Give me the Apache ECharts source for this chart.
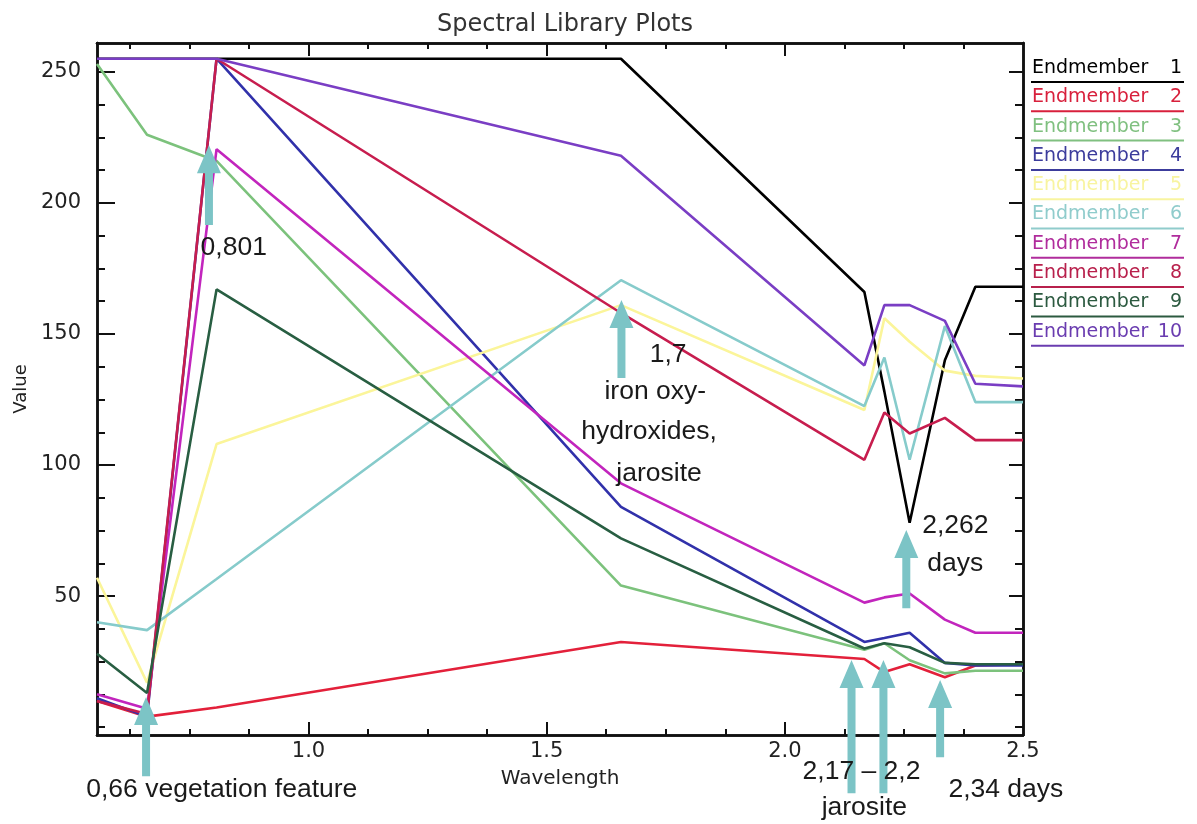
<!DOCTYPE html>
<html><head><meta charset="utf-8">
<script src="https://cdn.jsdelivr.net/npm/echarts@6/dist/echarts.min.js"></script>
<style>html,body{margin:0;padding:0;background:#fff}#c{width:1197px;height:824px}</style>
</head><body><div id="c"></div>
<script>
// ---- data ----
const wavelengths = [0.556, 0.661, 0.807, 1.656, 2.167, 2.209, 2.262, 2.336, 2.400, 2.500];
const em1  = [255, 255, 255, 255, 166, 128, 78, 140, 168, 168];
const em2  = [10, 4, 7.5, 32.5, 26, 21, 24, 19, 23.5, 24];
const em3  = [253, 226, 216, 54, 29.5, 32, 25.5, 20.5, 21.5, 21.5];
const em4  = [11, 4, 255, 84, 32.5, 34, 36, 24.5, 23.5, 23.5];
const em5  = [57, 17, 108, 161, 121, 156, 147, 136, 134, 133];
const em6  = [40, 37, 56.5, 170.5, 122.5, 141, 102, 153, 124, 124];
const em7  = [12.5, 7, 220.5, 93, 47.5, 49.5, 51, 41, 36, 36];
const em8  = [10, 5, 255, 158, 102, 120, 112, 118, 109.5, 109.5];
const em9  = [28, 13, 167, 72, 30, 32, 30.5, 24.5, 24, 24];
const em10 = [255, 255, 255, 218, 138, 161, 161, 155, 131, 130];
const seriesValues = [em1, em2, em3, em4, em5, em6, em7, em8, em9, em10];
const seriesNames = ['Endmember 1','Endmember 2','Endmember 3','Endmember 4','Endmember 5',
                     'Endmember 6','Endmember 7','Endmember 8','Endmember 9','Endmember 10'];
const xTickLabels = [1.0, 1.5, 2.0, 2.5];
const xMajorTicks = [1.0, 1.5, 2.0];
const xMinorTicks = [0.625, 0.75, 0.875, 1.125, 1.25, 1.375, 1.625, 1.75, 1.875, 2.125, 2.25, 2.375];
const yTickLabels = [50, 100, 150, 200, 250];
const yMajorTicks = [50, 100, 150, 200, 250];
const yMinorTicks = [0, 12.5, 25, 37.5, 62.5, 75, 87.5, 112.5, 125, 137.5, 162.5, 175, 187.5, 212.5, 225, 237.5];

// ---- styles ----
const colors = ['#000000', '#e3203a', '#7cc27c', '#3131aa', '#fbf59a', '#86cbcb', '#c225bd', '#c71d4e', '#285e42', '#7a3ec4'];
const legendColors = ['#000000', '#d8203c', '#80c080', '#3c3c9c', '#f8f4a0', '#90cccc', '#b02c9c', '#b8204c', '#2c5a40', '#6a3cb0'];
const X_MIN = 0.556, X_MAX = 2.5, Y_MIN = -3, Y_MAX = 261;
const tickFont = { color: '#222', fontSize: 21, fontFamily: 'DejaVu Sans' };
const axisColor = '#111';

function xAx(pos, ticks, len, labels, extra) {
  return Object.assign({
    type: 'value', min: X_MIN, max: X_MAX, position: pos,
    axisLine: { show: true, onZero: false, lineStyle: { color: axisColor, width: 2.5 } },
    axisTick: { show: true, inside: true, length: len, customValues: ticks, lineStyle: { color: axisColor, width: 2 } },
    axisLabel: labels ? Object.assign({ show: true, customValues: labels, margin: 6,
      formatter: v => Number(v).toFixed(1) }, tickFont) : { show: false },
    splitLine: { show: false }
  }, extra || {});
}
function yAx(pos, ticks, len, labels, extra) {
  return Object.assign({
    type: 'value', min: Y_MIN, max: Y_MAX, position: pos,
    axisLine: { show: true, onZero: false, lineStyle: { color: axisColor, width: 2.5 } },
    axisTick: { show: true, inside: true, length: len, customValues: ticks, lineStyle: { color: axisColor, width: 2 } },
    axisLabel: labels ? Object.assign({ show: true, customValues: labels, margin: 16,
      formatter: v => String(Math.round(v)) }, tickFont) : { show: false },
    splitLine: { show: false }
  }, extra || {});
}

const chart = echarts.init(document.getElementById('c'), null, { renderer: 'canvas' });
chart.setOption({
  animation: false,
  backgroundColor: '#ffffff',
  title: { text: 'Spectral Library Plots', left: 560, textAlign: 'center', top: 8,
    textStyle: { fontSize: 24, fontWeight: 'normal', color: '#333', fontFamily: 'DejaVu Sans' } },
  grid: { left: 97, right: 174, top: 43, bottom: 89, containLabel: false, outerBoundsMode: 'none' },
  xAxis: [
    xAx('bottom', xMajorTicks, 13, xTickLabels, { name: 'Wavelength', nameLocation: 'middle', nameGap: 34,
      nameTextStyle: { fontSize: 20, color: '#222', fontFamily: 'DejaVu Sans' } }),
    xAx('bottom', xMinorTicks, 6, null),
    xAx('top', xMajorTicks, 13, null),
    xAx('top', xMinorTicks, 6, null)
  ],
  yAxis: [
    yAx('left', yMajorTicks, 18, yTickLabels, { name: 'Value', nameLocation: 'middle', nameGap: 66, nameRotate: 90,
      nameTextStyle: { fontSize: 18, color: '#222', fontFamily: 'DejaVu Sans' } }),
    yAx('left', yMinorTicks, 8, null),
    yAx('right', yMajorTicks, 14, null),
    yAx('right', yMinorTicks, 8, null)
  ],
  series: seriesValues.map((vals, i) => ({
    name: seriesNames[i], type: 'line', xAxisIndex: 0, yAxisIndex: 0,
    data: wavelengths.map((w, j) => [w, vals[j]]),
    showSymbol: false, symbol: 'none', z: 2 + i * 0.01,
    lineStyle: { color: colors[i], width: 2.6 }, itemStyle: { color: colors[i] }
  }))
});

// ---- annotations (in data coordinates) ----
const arrows = [
  { x: 0.659, tip: 11.5, tail: -18.7 },
  { x: 0.791, tip: 222, tail: 191.6 },
  { x: 1.657, tip: 163, tail: 133.2 },
  { x: 2.255, tip: 75.2, tail: 45.4 },
  { x: 2.140, tip: 25.6, tail: -25.2 },
  { x: 2.207, tip: 25.6, tail: -25.2 },
  { x: 2.326, tip: 18, tail: -11.5 }
];
const notes = [
  { text: '0,66 vegetation feature', x: 0.818, y: -24 },
  { text: '0,801', x: 0.843, y: 182.8 },
  { text: '1,7', x: 1.755, y: 142 },
  { text: 'iron oxy-', x: 1.728, y: 127.9 },
  { text: 'hydroxides,', x: 1.715, y: 112.6 },
  { text: 'jarosite', x: 1.736, y: 96.6 },
  { text: '2,262', x: 2.358, y: 77 },
  { text: 'days', x: 2.358, y: 62.2 },
  { text: '2,17 – 2,2', x: 2.161, y: -17 },
  { text: 'jarosite', x: 2.167, y: -30.9 },
  { text: '2,34 days', x: 2.464, y: -24 }
];
const toPx = (x, y) => chart.convertToPixel({ xAxisIndex: 0, yAxisIndex: 0 }, [x, y]);
const graphics = [];
arrows.forEach(a => {
  const t = toPx(a.x, a.tip), b = toPx(a.x, a.tail);
  const tx = t[0], ty = t[1], by = b[1], hh = 28, hw = 12, sw = 4;
  graphics.push({ type: 'polygon', z: 50, shape: { points: [
    [tx, ty], [tx + hw, ty + hh], [tx + sw, ty + hh], [tx + sw, by], [tx - sw, by], [tx - sw, ty + hh], [tx - hw, ty + hh]
  ] }, style: { fill: '#7cc4c6' } });
});
notes.forEach(n => {
  const p = toPx(n.x, n.y);
  graphics.push({ type: 'text', z: 51, x: p[0], y: p[1], style: {
    text: n.text, fill: '#1a1a1a', fontSize: 26.5, fontFamily: 'Liberation Sans',
    align: 'center', verticalAlign: 'middle', textAlign: 'center', textVerticalAlign: 'middle' } });
});
// legend
seriesNames.forEach((name, i) => {
  const yc = 68 + 29.3 * i, yl = 82 + 29.3 * i;
  const parts = name.split(' ');
  graphics.push({ type: 'text', z: 40, x: 1032, y: yc, style: { text: parts[0], fill: legendColors[i],
    fontSize: 19, fontFamily: 'DejaVu Sans', align: 'left', verticalAlign: 'middle', textAlign: 'left', textVerticalAlign: 'middle' } });
  graphics.push({ type: 'text', z: 40, x: 1182, y: yc, style: { text: parts[1], fill: legendColors[i],
    fontSize: 19, fontFamily: 'DejaVu Sans', align: 'right', verticalAlign: 'middle', textAlign: 'right', textVerticalAlign: 'middle' } });
  graphics.push({ type: 'line', z: 40, shape: { x1: 1031, y1: yl, x2: 1184, y2: yl },
    style: { stroke: legendColors[i], lineWidth: 2 } });
});
chart.setOption({ graphic: graphics });
</script>
</body></html>
